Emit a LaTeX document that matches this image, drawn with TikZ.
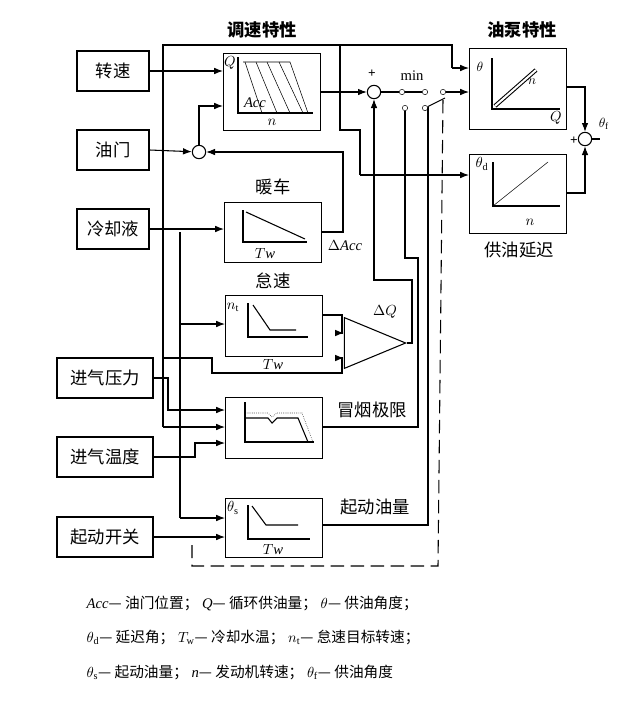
\documentclass[tikz,border=0pt]{standalone}
\usepackage{fontspec}
\setmainfont{Liberation Serif}
\newfontfamily\cjk{Noto Sans CJK SC}
\usetikzlibrary{positioning, arrows.meta, shapes.geometric}

\begin{document}
\begin{tikzpicture}[
    x=0.75pt, y=-0.75pt,
    % Estilos de Nodos
    inbox/.style={draw=black, thick, minimum width=72pt, minimum height=30pt, font=\cjk\fontsize{13}{15}\selectfont, inner sep=1pt},
    blk/.style={draw=black, thick, anchor=north west, inner sep=0pt},
    summ/.style={circle, draw=black, thick, minimum size=10pt, inner sep=0pt},
    dot/.style={circle, draw=black, fill=white, minimum size=4pt, inner sep=0pt},
    lbl/.style={font=\cjk\fontsize{13}{15}\selectfont},
    sym/.style={font=\fontsize{11}{13}\selectfont\itshape},
    leg/.style={font=\fontsize{11}{13}\selectfont, anchor=west},
    % Estilos de Flechas
    arrow/.style={-Latex, thick},
    line/.style={thick}
]
\useasboundingbox (0,0) rectangle (620,714);

% --- Entradas ---
\node[inbox, minimum width=54pt] (zs) at (113,71) {转速};
\node[inbox, minimum width=54pt] (ym) at (113,150) {油门};
\node[inbox, minimum width=54pt] (lq) at (113,229) {冷却液};
\node[inbox] (jy) at (105,378) {进气压力};
\node[inbox] (jw) at (105,457) {进气温度};
\node[inbox] (qk) at (105,537) {起动开关};

% --- Bloques ---
\node[blk, minimum width=73pt, minimum height=58pt] (gov) at (223,53) {};
\node[blk, minimum width=73pt, minimum height=61pt] (pump) at (469,48) {};
\node[blk, minimum width=73pt, minimum height=59pt] (delay) at (469,154) {};
\node[blk, minimum width=73pt, minimum height=45pt] (warm) at (224,202) {};
\node[blk, minimum width=73pt, minimum height=46pt] (idle) at (225,295) {};
\node[blk, minimum width=73pt, minimum height=46pt] (smoke) at (225,397) {};
\node[blk, minimum width=73pt, minimum height=44pt] (start) at (225,498) {};
\node[summ] (s1) at (374,92) {};
\node[summ] (s2) at (199,152) {};
\node[summ] (s3) at (585,139) {};
\node[isosceles triangle, draw, thick, minimum height=37pt, minimum width=38pt, inner sep=0pt, anchor=apex] (amp) at (407,343) {};

% --- Interruptor min ---
\node[dot] (d1) at (402,92) {};
\node[dot] (d2) at (425,92) {};
\node[dot] (d3) at (443,92) {};
\node[dot] (d4) at (405,108) {};
\node[dot] (d5) at (425,108) {};
\draw[line] (d1) -- (d2);
\draw[line] (d5) -- (445,98);

% --- Etiquetas ---
\node[lbl, font=\cjk\bfseries\fontsize{13}{15}\selectfont] (tgov) at (262,30) {调速特性};
\node[lbl, font=\cjk\bfseries\fontsize{13}{15}\selectfont] (tpump) at (522,30) {油泵特性};
\node[lbl] (twarm) at (273,187) {暖车};
\node[lbl] (tidle) at (273,281) {怠速};
\node[lbl] (tsmoke) at (372,410) {冒烟极限};
\node[lbl] (tstart) at (375,507) {起动油量};
\node[lbl] (tdelay) at (519,250) {供油延迟};
\node[font=\fontsize{11}{13}\selectfont] (tmin) at (412,76) {min};
\node[font=\bfseries] (tplus) at (372,74) {+};
\node[sym] (tdacc) at (345,246) {$\Delta$Acc};
\node[sym] (tdq) at (385,312) {$\Delta Q$};
\node[sym, font=\bfseries\itshape] (tthf) at (604,124) {$\theta_{\rm f}$};
\node[font=\bfseries] (tplus2) at (574,141) {+};

% --- Curvas internas ---
\draw[line] (238,57) -- (238,113) -- (313,113);
\foreach \a/\b in {245/262, 256/277, 267/290, 279/303}
    \draw (\a,62) -- (\b,113);
\draw (243,62) -- (290,62) -- (308,113);
\node[sym] (tq) at (230,63) {$Q$};
\node[sym] (tacc) at (255,103) {Acc};
\node[sym] (tn) at (272,122) {$n$};

\draw[line] (492,58) -- (492,109) -- (560,109);
\draw[line, double, double distance=1.5pt] (495,106) -- (536,70);
\node[sym, font=\bfseries\itshape] (tth) at (480,67) {$\theta$};
\node[sym, font=\bfseries\itshape] (tn2) at (532,82) {$n$};
\node[sym] (tq2) at (556,118) {$Q$};

\draw[line] (493,162) -- (493,206) -- (560,206);
\draw (493,206) -- (548,162);
\node[sym] (tthd) at (482,164) {$\theta_{\rm d}$};
\node[sym] (tn3) at (530,222) {$n$};

\draw[line] (243,210) -- (243,242) -- (307,242);
\draw[line] (246,212) -- (305,239);
\node[sym] (ttw1) at (265,254) {$T$w};

\draw[line] (248,303) -- (248,337) -- (308,337);
\draw[line] (253,305) -- (270,330) -- (296,330);
\node[sym] (tnt) at (233,307) {$n_{\rm t}$};
\node[sym] (ttw2) at (273,365) {$T$w};

\draw[line] (245,402) -- (245,442) -- (314,442);
\draw[line] (245,418) -- (268,418) -- (272,423) -- (277,418) -- (298,418) -- (308,442);
\draw[densely dotted] (245,413) -- (268,413) -- (272,417) -- (277,413) -- (302,413) -- (313,442);

\draw[line] (248,505) -- (248,539) -- (310,539);
\draw[line] (252,506) -- (266,525) -- (298,525);
\node[sym] (tths) at (233,508) {$\theta_{\rm s}$};
\node[sym] (ttw3) at (273,550) {$T$w};

% --- Conexiones superiores ---
\draw[arrow] (zs.east) -- (gov.west |- zs.east);
\draw[line] (163,300) -- (163,45) -- (452,45) -- (452,68);
\draw[arrow] (452,68) -- (pump.west |- 0,68);
\draw[line] (340,45) -- (340,130) -- (360,130) -- (360,175);
\draw[arrow] (360,175) -- (delay.west |- 0,175);
\draw[arrow] (gov.east |- s1) -- (s1);
\draw[line] (s1) -- (d1);
\draw[arrow] (d3) -- (pump.west |- d3);
\draw[arrow] (ym.east) -- (s2);
\draw[arrow] (s2.north) |- (gov.west |- 0,106);
\draw[arrow] (warm.east |- 0,232) -- (343,232) |- (s2.east);
\draw[arrow] (pump.east |- 0,87) -- (585,87) -- (s3.north);
\draw[arrow] (delay.east |- 0,193) -- (585,193) -- (s3.south);
\draw[line] (s3.east) -- (600,139);

% --- Conexiones de limitación ---
\draw[arrow] (amp.apex) -- (412,343) -- (412,280) -- (374,280) -- (s1.south);
\draw[arrow] (idle.east |- 0,315) -- (342,315) |- (amp.left corner |- 0,333);
\draw[arrow] (163,358) -- (212,358) -- (212,373) -- (342,373) |- (amp.left corner |- 0,358);
\draw[line] (d4) -- (405,258) -- (418,258) -- (418,427) -- (smoke.east |- 0,427);
\draw[line] (d5) -- (428,108) -- (428,525) -- (start.east |- 0,525);
\draw[line, dashed, dash pattern=on 10pt off 5pt] (443,100) -- (438,566) -- (192,566) -- (192,545);

% --- Conexiones de entradas ---
\draw[arrow] (lq.east) -- (warm.west |- lq.east);
\draw[line] (163,232) -- (163,427);
\draw[arrow] (163,427) -- (smoke.west |- 0,427);
\draw[line] (180,232) -- (180,518);
\draw[arrow] (180,324) -- (idle.west |- 0,324);
\draw[arrow] (180,518) -- (start.west |- 0,518);
\draw[arrow] (jy.east) -- (168,378) -- (168,410) -- (smoke.west |- 0,410);
\draw[arrow] (jw.east) -- (195,457) -- (195,443) -- (smoke.west |- 0,443);
\draw[arrow] (qk.east) -- (start.west |- qk.east);

% --- Leyenda ---
\node[leg] (l1) at (82,603) {\textit{Acc}{\cjk — 油门位置；} \textit{Q}{\cjk — 循环供油量；} $\theta${\cjk — 供油角度；}};
\node[leg] (l2) at (82,637) {$\theta_{\rm d}${\cjk — 延迟角；} $T_{\rm w}${\cjk — 冷却水温；} $n_{\rm t}${\cjk — 怠速目标转速；}};
\node[leg] (l3) at (82,672) {$\theta_{\rm s}${\cjk — 起动油量；} \textit{n}{\cjk — 发动机转速；} $\theta_{\rm f}${\cjk — 供油角度}};
\end{tikzpicture}
\end{document}
